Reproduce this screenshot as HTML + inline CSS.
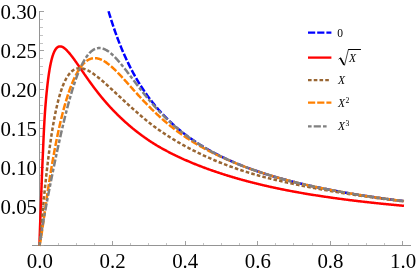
<!DOCTYPE html>
<html><head><meta charset="utf-8"><title>Plot</title>
<style>html,body{margin:0;padding:0;background:#fff;}body{width:416px;height:273px;overflow:hidden;position:relative;font-family:"Liberation Serif",serif;}</style></head>
<body>
<svg width="416" height="273" viewBox="0 0 416 273" style="position:absolute;left:0;top:0;will-change:transform">
<rect width="416" height="273" fill="#fff"/>
<g fill="none" shape-rendering="crispEdges">
<line x1="32.24" y1="245.5" x2="410.50" y2="245.5" stroke="#949494" stroke-width="1"/>
<line x1="39.5" y1="246.0" x2="39.5" y2="11.45" stroke="#949494" stroke-width="1"/>
<line x1="39.50" y1="245.0" x2="39.50" y2="241.00" stroke="#a0a0a0" stroke-width="1"/>
<line x1="58.50" y1="245.0" x2="58.50" y2="243.00" stroke="#c4c4c4" stroke-width="1"/>
<line x1="76.50" y1="245.0" x2="76.50" y2="243.00" stroke="#c4c4c4" stroke-width="1"/>
<line x1="94.50" y1="245.0" x2="94.50" y2="243.00" stroke="#c4c4c4" stroke-width="1"/>
<line x1="112.50" y1="245.0" x2="112.50" y2="241.00" stroke="#a0a0a0" stroke-width="1"/>
<line x1="130.50" y1="245.0" x2="130.50" y2="243.00" stroke="#c4c4c4" stroke-width="1"/>
<line x1="148.50" y1="245.0" x2="148.50" y2="243.00" stroke="#c4c4c4" stroke-width="1"/>
<line x1="166.50" y1="245.0" x2="166.50" y2="243.00" stroke="#c4c4c4" stroke-width="1"/>
<line x1="185.50" y1="245.0" x2="185.50" y2="241.00" stroke="#a0a0a0" stroke-width="1"/>
<line x1="203.50" y1="245.0" x2="203.50" y2="243.00" stroke="#c4c4c4" stroke-width="1"/>
<line x1="221.50" y1="245.0" x2="221.50" y2="243.00" stroke="#c4c4c4" stroke-width="1"/>
<line x1="239.50" y1="245.0" x2="239.50" y2="243.00" stroke="#c4c4c4" stroke-width="1"/>
<line x1="257.50" y1="245.0" x2="257.50" y2="241.00" stroke="#a0a0a0" stroke-width="1"/>
<line x1="275.50" y1="245.0" x2="275.50" y2="243.00" stroke="#c4c4c4" stroke-width="1"/>
<line x1="293.50" y1="245.0" x2="293.50" y2="243.00" stroke="#c4c4c4" stroke-width="1"/>
<line x1="312.50" y1="245.0" x2="312.50" y2="243.00" stroke="#c4c4c4" stroke-width="1"/>
<line x1="330.50" y1="245.0" x2="330.50" y2="241.00" stroke="#a0a0a0" stroke-width="1"/>
<line x1="348.50" y1="245.0" x2="348.50" y2="243.00" stroke="#c4c4c4" stroke-width="1"/>
<line x1="366.50" y1="245.0" x2="366.50" y2="243.00" stroke="#c4c4c4" stroke-width="1"/>
<line x1="384.50" y1="245.0" x2="384.50" y2="243.00" stroke="#c4c4c4" stroke-width="1"/>
<line x1="402.50" y1="245.0" x2="402.50" y2="241.00" stroke="#a0a0a0" stroke-width="1"/>
<line x1="40.0" y1="245.50" x2="44.00" y2="245.50" stroke="#a0a0a0" stroke-width="1"/>
<line x1="40.0" y1="237.50" x2="43.00" y2="237.50" stroke="#c4c4c4" stroke-width="1"/>
<line x1="40.0" y1="229.50" x2="43.00" y2="229.50" stroke="#c4c4c4" stroke-width="1"/>
<line x1="40.0" y1="222.50" x2="43.00" y2="222.50" stroke="#c4c4c4" stroke-width="1"/>
<line x1="40.0" y1="214.50" x2="43.00" y2="214.50" stroke="#c4c4c4" stroke-width="1"/>
<line x1="40.0" y1="206.50" x2="44.00" y2="206.50" stroke="#a0a0a0" stroke-width="1"/>
<line x1="40.0" y1="198.50" x2="43.00" y2="198.50" stroke="#c4c4c4" stroke-width="1"/>
<line x1="40.0" y1="191.50" x2="43.00" y2="191.50" stroke="#c4c4c4" stroke-width="1"/>
<line x1="40.0" y1="183.50" x2="43.00" y2="183.50" stroke="#c4c4c4" stroke-width="1"/>
<line x1="40.0" y1="175.50" x2="43.00" y2="175.50" stroke="#c4c4c4" stroke-width="1"/>
<line x1="40.0" y1="167.50" x2="44.00" y2="167.50" stroke="#a0a0a0" stroke-width="1"/>
<line x1="40.0" y1="159.50" x2="43.00" y2="159.50" stroke="#c4c4c4" stroke-width="1"/>
<line x1="40.0" y1="152.50" x2="43.00" y2="152.50" stroke="#c4c4c4" stroke-width="1"/>
<line x1="40.0" y1="144.50" x2="43.00" y2="144.50" stroke="#c4c4c4" stroke-width="1"/>
<line x1="40.0" y1="136.50" x2="43.00" y2="136.50" stroke="#c4c4c4" stroke-width="1"/>
<line x1="40.0" y1="128.50" x2="44.00" y2="128.50" stroke="#a0a0a0" stroke-width="1"/>
<line x1="40.0" y1="120.50" x2="43.00" y2="120.50" stroke="#c4c4c4" stroke-width="1"/>
<line x1="40.0" y1="113.50" x2="43.00" y2="113.50" stroke="#c4c4c4" stroke-width="1"/>
<line x1="40.0" y1="105.50" x2="43.00" y2="105.50" stroke="#c4c4c4" stroke-width="1"/>
<line x1="40.0" y1="97.50" x2="43.00" y2="97.50" stroke="#c4c4c4" stroke-width="1"/>
<line x1="40.0" y1="89.50" x2="44.00" y2="89.50" stroke="#a0a0a0" stroke-width="1"/>
<line x1="40.0" y1="82.50" x2="43.00" y2="82.50" stroke="#c4c4c4" stroke-width="1"/>
<line x1="40.0" y1="74.50" x2="43.00" y2="74.50" stroke="#c4c4c4" stroke-width="1"/>
<line x1="40.0" y1="66.50" x2="43.00" y2="66.50" stroke="#c4c4c4" stroke-width="1"/>
<line x1="40.0" y1="58.50" x2="43.00" y2="58.50" stroke="#c4c4c4" stroke-width="1"/>
<line x1="40.0" y1="50.50" x2="44.00" y2="50.50" stroke="#a0a0a0" stroke-width="1"/>
<line x1="40.0" y1="43.50" x2="43.00" y2="43.50" stroke="#c4c4c4" stroke-width="1"/>
<line x1="40.0" y1="35.50" x2="43.00" y2="35.50" stroke="#c4c4c4" stroke-width="1"/>
<line x1="40.0" y1="27.50" x2="43.00" y2="27.50" stroke="#c4c4c4" stroke-width="1"/>
<line x1="40.0" y1="19.50" x2="43.00" y2="19.50" stroke="#c4c4c4" stroke-width="1"/>
<line x1="40.0" y1="11.50" x2="44.00" y2="11.50" stroke="#a0a0a0" stroke-width="1"/>
</g>
<g font-family="'Liberation Serif', serif" font-size="22" fill="#000">
<text transform="translate(37.0,213.88) scale(0.949,1)" text-anchor="end">0.05</text>
<text transform="translate(37.0,174.95) scale(0.949,1)" text-anchor="end">0.10</text>
<text transform="translate(37.0,136.03) scale(0.949,1)" text-anchor="end">0.15</text>
<text transform="translate(37.0,97.10) scale(0.949,1)" text-anchor="end">0.20</text>
<text transform="translate(37.0,58.17) scale(0.949,1)" text-anchor="end">0.25</text>
<text transform="translate(37.0,19.25) scale(0.949,1)" text-anchor="end">0.30</text>
<text transform="translate(39.90,268.1) scale(0.949,1)" text-anchor="middle">0.0</text>
<text transform="translate(112.54,268.1) scale(0.949,1)" text-anchor="middle">0.2</text>
<text transform="translate(185.18,268.1) scale(0.949,1)" text-anchor="middle">0.4</text>
<text transform="translate(257.82,268.1) scale(0.949,1)" text-anchor="middle">0.6</text>
<text transform="translate(330.46,268.1) scale(0.949,1)" text-anchor="middle">0.8</text>
<text transform="translate(403.10,268.1) scale(0.949,1)" text-anchor="middle">1.0</text>
</g>
<path d="M108.54,11.25 L109.28,13.74 L110.02,16.17 L110.76,18.55 L111.50,20.89 L112.25,23.17 L112.99,25.41 L113.73,27.61 L114.47,29.76 L115.21,31.87 L115.95,33.94 L116.69,35.97 L117.43,37.96 L118.17,39.91 L118.91,41.83 L119.65,43.71 L120.39,45.56 L121.13,47.37 L121.87,49.15 L122.61,50.90 L123.35,52.62 L124.09,54.31 L124.83,55.97 L125.57,57.60 L126.31,59.20 L127.06,60.78 L127.80,62.33 L128.54,63.85 L129.28,65.35 L130.02,66.82 L130.76,68.27 L131.50,69.70 L132.24,71.10 L132.98,72.48 L133.72,73.84 L134.46,75.18 L135.20,76.50 L135.94,77.80 L136.68,79.08 L137.42,80.33 L138.16,81.57 L138.90,82.80 L139.64,84.00 L140.38,85.18 L141.12,86.35 L141.87,87.50 L142.61,88.64 L143.35,89.76 L144.09,90.86 L144.83,91.95 L145.57,93.02 L146.31,94.08 L147.05,95.12 L147.79,96.15 L148.53,97.16 L149.27,98.16 L150.01,99.15 L150.75,100.12 L151.49,101.08 L152.23,102.03 L152.97,102.97 L153.71,103.89 L154.45,104.81 L155.19,105.71 L155.93,106.59 L156.68,107.47 L157.42,108.34 L158.16,109.20 L158.90,110.04 L159.64,110.88 L160.38,111.70 L161.12,112.52 L161.86,113.32 L162.60,114.11 L163.34,114.90 L164.08,115.68 L164.82,116.44 L165.56,117.20 L166.30,117.95 L167.04,118.69 L167.78,119.42 L168.52,120.15 L169.26,120.86 L170.00,121.57 L170.74,122.27 L171.48,122.96 L172.23,123.64 L172.97,124.32 L173.71,124.99 L174.45,125.65 L175.19,126.30 L175.93,126.95 L176.67,127.59 L177.41,128.22 L178.15,128.85 L178.89,129.47 L179.63,130.08 L180.37,130.69 L181.11,131.29 L181.85,131.88 L182.59,132.47 L183.33,133.05 L184.07,133.63 L184.81,134.20 L185.55,134.76 L186.29,135.32 L187.04,135.88 L187.78,136.42 L188.52,136.97 L189.26,137.50 L190.00,138.03 L190.74,138.56 L191.48,139.08 L192.22,139.60 L192.96,140.11 L193.70,140.61 L194.44,141.12 L195.18,141.61 L195.92,142.10 L196.66,142.59 L197.40,143.07 L198.14,143.55 L198.88,144.03 L199.62,144.49 L200.36,144.96 L201.10,145.42 L201.85,145.88 L202.59,146.33 L203.33,146.78 L204.07,147.22 L204.81,147.66 L205.55,148.10 L206.29,148.53 L207.03,148.96 L207.77,149.38 L208.51,149.81 L209.25,150.22 L209.99,150.64 L210.73,151.05 L211.47,151.45 L212.21,151.86 L212.95,152.26 L213.69,152.65 L214.43,153.05 L215.17,153.44 L215.91,153.82 L216.66,154.21 L217.40,154.59 L218.14,154.96 L218.88,155.34 L219.62,155.71 L220.36,156.07 L221.10,156.44 L221.84,156.80 L222.58,157.16 L223.32,157.51 L224.06,157.87 L224.80,158.22 L225.54,158.57 L226.28,158.91 L227.02,159.25 L227.76,159.59 L228.50,159.93 L229.24,160.26 L229.98,160.59 L230.72,160.92 L231.46,161.25 L232.21,161.57 L232.95,161.89 L233.69,162.21 L234.43,162.53 L235.17,162.84 L235.91,163.15 L236.65,163.46 L237.39,163.77 L238.13,164.08 L238.87,164.38 L239.61,164.68 L240.35,164.98 L241.09,165.27 L241.83,165.57 L242.57,165.86 L243.31,166.15 L244.05,166.43 L244.79,166.72 L245.53,167.00 L246.27,167.28 L247.02,167.56 L247.76,167.84 L248.50,168.11 L249.24,168.39 L249.98,168.66 L250.72,168.93 L251.46,169.20 L252.20,169.46 L252.94,169.72 L253.68,169.99 L254.42,170.25 L255.16,170.51 L255.90,170.76 L256.64,171.02 L257.38,171.27 L258.12,171.52 L258.86,171.77 L259.60,172.02 L260.34,172.27 L261.08,172.51 L261.83,172.75 L262.57,173.00 L263.31,173.23 L264.05,173.47 L264.79,173.71 L265.53,173.95 L266.27,174.18 L267.01,174.41 L267.75,174.64 L268.49,174.87 L269.23,175.10 L269.97,175.32 L270.71,175.55 L271.45,175.77 L272.19,175.99 L272.93,176.22 L273.67,176.43 L274.41,176.65 L275.15,176.87 L275.89,177.08 L276.64,177.30 L277.38,177.51 L278.12,177.72 L278.86,177.93 L279.60,178.14 L280.34,178.35 L281.08,178.55 L281.82,178.76 L282.56,178.96 L283.30,179.16 L284.04,179.36 L284.78,179.56 L285.52,179.76 L286.26,179.96 L287.00,180.15 L287.74,180.35 L288.48,180.54 L289.22,180.73 L289.96,180.93 L290.70,181.12 L291.44,181.31 L292.19,181.49 L292.93,181.68 L293.67,181.87 L294.41,182.05 L295.15,182.24 L295.89,182.42 L296.63,182.60 L297.37,182.78 L298.11,182.96 L298.85,183.14 L299.59,183.32 L300.33,183.49 L301.07,183.67 L301.81,183.84 L302.55,184.02 L303.29,184.19 L304.03,184.36 L304.77,184.53 L305.51,184.70 L306.25,184.87 L307.00,185.04 L307.74,185.20 L308.48,185.37 L309.22,185.54 L309.96,185.70 L310.70,185.86 L311.44,186.03 L312.18,186.19 L312.92,186.35 L313.66,186.51 L314.40,186.67 L315.14,186.82 L315.88,186.98 L316.62,187.14 L317.36,187.29 L318.10,187.45 L318.84,187.60 L319.58,187.76 L320.32,187.91 L321.06,188.06 L321.81,188.21 L322.55,188.36 L323.29,188.51 L324.03,188.66 L324.77,188.80 L325.51,188.95 L326.25,189.10 L326.99,189.24 L327.73,189.39 L328.47,189.53 L329.21,189.67 L329.95,189.82 L330.69,189.96 L331.43,190.10 L332.17,190.24 L332.91,190.38 L333.65,190.52 L334.39,190.66 L335.13,190.79 L335.87,190.93 L336.62,191.07 L337.36,191.20 L338.10,191.34 L338.84,191.47 L339.58,191.60 L340.32,191.74 L341.06,191.87 L341.80,192.00 L342.54,192.13 L343.28,192.26 L344.02,192.39 L344.76,192.52 L345.50,192.65 L346.24,192.77 L346.98,192.90 L347.72,193.03 L348.46,193.15 L349.20,193.28 L349.94,193.40 L350.68,193.53 L351.42,193.65 L352.17,193.77 L352.91,193.89 L353.65,194.02 L354.39,194.14 L355.13,194.26 L355.87,194.38 L356.61,194.50 L357.35,194.62 L358.09,194.73 L358.83,194.85 L359.57,194.97 L360.31,195.09 L361.05,195.20 L361.79,195.32 L362.53,195.43 L363.27,195.55 L364.01,195.66 L364.75,195.77 L365.49,195.89 L366.23,196.00 L366.98,196.11 L367.72,196.22 L368.46,196.33 L369.20,196.44 L369.94,196.55 L370.68,196.66 L371.42,196.77 L372.16,196.88 L372.90,196.99 L373.64,197.10 L374.38,197.20 L375.12,197.31 L375.86,197.42 L376.60,197.52 L377.34,197.63 L378.08,197.73 L378.82,197.84 L379.56,197.94 L380.30,198.04 L381.04,198.15 L381.79,198.25 L382.53,198.35 L383.27,198.45 L384.01,198.55 L384.75,198.65 L385.49,198.75 L386.23,198.85 L386.97,198.95 L387.71,199.05 L388.45,199.15 L389.19,199.25 L389.93,199.35 L390.67,199.44 L391.41,199.54 L392.15,199.64 L392.89,199.73 L393.63,199.83 L394.37,199.92 L395.11,200.02 L395.85,200.11 L396.60,200.21 L397.34,200.30 L398.08,200.40 L398.82,200.49 L399.56,200.58 L400.30,200.67 L401.04,200.77 L401.78,200.86 L402.52,200.95 L403.26,201.04 L404.00,201.13" fill="none" stroke="#0000ff" stroke-width="2.5" stroke-dasharray="7.05 2" stroke-linejoin="round"/>
<path d="M39.50,245.50 L39.50,245.32 L39.50,245.32 L39.50,245.30 L39.50,245.26 L39.51,245.21 L39.51,245.13 L39.51,245.04 L39.51,244.93 L39.51,244.79 L39.52,244.63 L39.52,244.46 L39.53,244.26 L39.53,244.04 L39.54,243.79 L39.54,243.53 L39.55,243.24 L39.56,242.93 L39.56,242.60 L39.57,242.24 L39.58,241.86 L39.59,241.46 L39.60,241.04 L39.61,240.60 L39.62,240.13 L39.63,239.64 L39.64,239.13 L39.65,238.60 L39.67,238.04 L39.69,237.47 L39.70,236.87 L39.73,236.25 L39.75,235.61 L39.77,234.95 L39.79,234.27 L39.82,233.57 L39.84,232.85 L39.87,232.10 L39.89,231.34 L39.92,230.56 L39.95,229.76 L39.97,228.94 L40.00,228.10 L40.03,227.25 L40.06,226.37 L40.10,225.48 L40.13,224.57 L40.16,223.64 L40.20,222.69 L40.23,221.73 L40.27,220.75 L40.30,219.76 L40.34,218.74 L40.38,217.72 L40.42,216.67 L40.46,215.62 L40.50,214.54 L40.54,213.46 L40.58,212.36 L40.63,211.24 L40.67,210.11 L40.72,208.97 L40.76,207.82 L40.81,206.65 L40.86,205.47 L40.90,204.28 L40.95,203.08 L41.00,201.87 L41.05,200.65 L41.10,199.41 L41.14,198.17 L41.18,196.91 L41.22,195.65 L41.26,194.38 L41.31,193.10 L41.35,191.81 L41.40,190.51 L41.44,189.20 L41.49,187.89 L41.54,186.57 L41.58,185.24 L41.63,183.91 L41.68,182.57 L41.73,181.23 L41.78,179.88 L41.83,178.52 L41.89,177.16 L41.94,175.80 L41.99,174.43 L42.05,173.06 L42.10,171.69 L42.16,170.31 L42.22,168.93 L42.27,167.55 L42.33,166.16 L42.39,164.77 L42.45,163.39 L42.51,162.00 L42.57,160.61 L42.63,159.22 L42.70,157.83 L42.76,156.44 L42.82,155.05 L42.89,153.66 L42.96,152.27 L43.02,150.89 L43.08,149.50 L43.14,148.12 L43.19,146.74 L43.25,145.36 L43.31,143.99 L43.36,142.61 L43.42,141.24 L43.48,139.88 L43.54,138.52 L43.60,137.16 L43.66,135.81 L43.73,134.46 L43.79,133.12 L43.86,131.78 L43.92,130.45 L43.99,129.12 L44.05,127.80 L44.12,126.49 L44.19,125.18 L44.26,123.88 L44.34,122.58 L44.41,121.29 L44.49,120.01 L44.57,118.74 L44.64,117.47 L44.72,116.22 L44.80,114.97 L44.88,113.72 L44.96,112.49 L45.05,111.27 L45.13,110.05 L45.22,108.84 L45.31,107.65 L45.41,106.46 L45.50,105.28 L45.60,104.11 L45.69,102.95 L45.79,101.80 L45.89,100.66 L45.99,99.53 L46.09,98.41 L46.19,97.30 L46.29,96.21 L46.39,95.12 L46.49,94.04 L46.60,92.98 L46.70,91.92 L46.81,90.88 L46.91,89.85 L47.02,88.83 L47.13,87.82 L47.24,86.82 L47.35,85.83 L47.46,84.86 L47.57,83.90 L47.68,82.95 L47.79,82.01 L47.91,81.08 L48.02,80.17 L48.13,79.27 L48.25,78.38 L48.37,77.50 L48.49,76.63 L48.60,75.78 L48.72,74.94 L48.84,74.11 L48.97,73.29 L49.09,72.49 L49.21,71.70 L49.34,70.92 L49.46,70.15 L49.59,69.40 L49.71,68.66 L49.84,67.93 L49.97,67.22 L50.10,66.52 L50.23,65.84 L50.36,65.17 L50.49,64.52 L50.62,63.88 L50.75,63.25 L50.89,62.63 L51.02,62.02 L51.16,61.43 L51.30,60.85 L51.43,60.29 L51.57,59.73 L51.71,59.19 L51.85,58.66 L51.99,58.14 L52.14,57.63 L52.28,57.14 L52.42,56.66 L52.57,56.19 L52.71,55.73 L52.86,55.28 L53.01,54.85 L53.16,54.43 L53.30,54.02 L53.45,53.62 L53.61,53.23 L53.76,52.86 L53.91,52.49 L54.06,52.14 L54.22,51.80 L54.37,51.47 L54.53,51.15 L54.69,50.84 L54.84,50.55 L55.00,50.26 L55.16,49.99 L55.32,49.73 L55.49,49.47 L55.65,49.23 L55.81,49.00 L55.98,48.78 L56.14,48.57 L56.31,48.37 L56.47,48.18 L56.64,48.00 L56.81,47.83 L56.98,47.67 L57.15,47.53 L57.32,47.39 L57.49,47.26 L57.67,47.14 L57.84,47.03 L58.02,46.93 L58.19,46.84 L58.37,46.76 L58.55,46.68 L58.73,46.62 L58.91,46.56 L59.09,46.51 L59.27,46.47 L59.45,46.44 L59.63,46.42 L59.82,46.40 L60.00,46.39 L60.19,46.39 L60.38,46.40 L60.56,46.42 L60.75,46.44 L60.94,46.47 L61.13,46.51 L61.33,46.56 L61.52,46.61 L61.71,46.67 L61.91,46.74 L62.10,46.82 L62.30,46.90 L62.49,46.99 L62.69,47.09 L62.89,47.20 L63.09,47.31 L63.29,47.43 L63.49,47.55 L63.70,47.68 L63.90,47.82 L64.10,47.97 L64.31,48.12 L64.52,48.27 L64.72,48.44 L64.93,48.61 L65.14,48.78 L65.35,48.96 L65.56,49.15 L65.77,49.34 L65.99,49.54 L66.20,49.75 L66.42,49.96 L66.63,50.17 L66.85,50.39 L67.07,50.61 L67.28,50.84 L67.50,51.07 L67.72,51.31 L67.95,51.55 L68.17,51.80 L68.39,52.05 L68.62,52.30 L68.84,52.56 L69.07,52.83 L69.29,53.09 L69.52,53.36 L69.75,53.64 L69.98,53.92 L70.21,54.20 L70.44,54.49 L70.68,54.78 L70.91,55.08 L71.15,55.37 L71.38,55.68 L71.62,55.98 L71.86,56.29 L72.09,56.60 L72.33,56.92 L72.57,57.24 L72.82,57.56 L73.06,57.89 L73.30,58.22 L73.55,58.55 L73.79,58.89 L74.04,59.23 L74.28,59.57 L74.53,59.92 L74.78,60.26 L75.03,60.61 L75.28,60.96 L75.53,61.32 L75.79,61.67 L76.04,62.03 L76.30,62.39 L76.55,62.76 L76.81,63.12 L77.07,63.49 L77.32,63.86 L77.58,64.23 L77.84,64.60 L78.11,64.98 L78.37,65.36 L78.63,65.74 L78.90,66.12 L79.16,66.50 L79.43,66.88 L79.70,67.27 L79.97,67.66 L80.23,68.05 L80.51,68.44 L80.78,68.83 L81.05,69.23 L81.32,69.63 L81.60,70.02 L81.87,70.42 L82.15,70.83 L82.43,71.23 L82.70,71.64 L82.98,72.04 L83.26,72.45 L83.54,72.86 L83.83,73.27 L84.11,73.68 L84.39,74.10 L84.68,74.51 L84.96,74.93 L85.25,75.34 L85.54,75.76 L85.83,76.18 L86.12,76.60 L86.41,77.01 L86.70,77.43 L86.99,77.85 L87.29,78.27 L87.58,78.69 L87.88,79.11 L88.18,79.53 L88.47,79.96 L88.77,80.38 L89.07,80.80 L89.37,81.22 L89.68,81.64 L89.98,82.07 L90.28,82.49 L90.59,82.91 L90.89,83.33 L91.20,83.76 L91.51,84.18 L91.82,84.60 L92.13,85.03 L92.44,85.45 L92.75,85.87 L93.06,86.29 L93.38,86.72 L93.69,87.14 L94.01,87.56 L94.32,87.98 L94.64,88.41 L94.96,88.83 L95.28,89.25 L95.60,89.67 L95.92,90.09 L96.25,90.51 L96.57,90.93 L96.90,91.35 L97.22,91.77 L97.55,92.19 L97.88,92.61 L98.21,93.03 L98.54,93.44 L98.87,93.86 L99.20,94.28 L99.53,94.69 L99.87,95.11 L100.20,95.52 L100.54,95.94 L100.87,96.35 L101.21,96.77 L101.55,97.18 L101.89,97.59 L102.23,98.00 L102.57,98.41 L102.92,98.82 L103.26,99.23 L103.61,99.64 L103.95,100.05 L104.30,100.46 L104.65,100.87 L105.00,101.27 L105.35,101.68 L105.70,102.08 L106.05,102.49 L106.40,102.89 L106.76,103.29 L107.11,103.69 L107.47,104.09 L107.83,104.49 L108.19,104.89 L108.54,105.29 L108.91,105.69 L109.27,106.09 L109.63,106.48 L109.99,106.88 L110.36,107.27 L110.72,107.67 L111.09,108.06 L111.46,108.45 L111.83,108.84 L112.20,109.24 L112.57,109.63 L112.94,110.02 L113.31,110.41 L113.68,110.79 L114.06,111.18 L114.44,111.57 L114.81,111.96 L115.19,112.34 L115.57,112.73 L115.95,113.11 L116.33,113.49 L116.71,113.88 L117.10,114.26 L117.48,114.64 L117.86,115.02 L118.25,115.40 L118.64,115.78 L119.03,116.16 L119.42,116.53 L119.81,116.91 L120.20,117.29 L120.59,117.66 L120.98,118.03 L121.38,118.41 L121.77,118.78 L122.17,119.15 L122.57,119.52 L122.97,119.89 L123.37,120.26 L123.77,120.63 L124.17,121.00 L124.57,121.36 L124.97,121.73 L125.38,122.09 L125.79,122.46 L126.19,122.82 L126.60,123.18 L127.01,123.54 L127.42,123.90 L127.83,124.26 L128.24,124.62 L128.66,124.98 L129.07,125.33 L129.49,125.69 L129.90,126.04 L130.32,126.39 L130.74,126.75 L131.16,127.10 L131.58,127.45 L132.00,127.80 L132.42,128.15 L132.85,128.49 L133.27,128.84 L133.70,129.19 L134.12,129.53 L134.55,129.87 L134.98,130.22 L135.41,130.56 L135.84,130.90 L136.27,131.24 L136.71,131.58 L137.14,131.91 L137.58,132.25 L138.01,132.58 L138.45,132.92 L138.89,133.25 L139.33,133.58 L139.77,133.91 L140.21,134.24 L140.65,134.57 L141.10,134.90 L141.54,135.23 L141.99,135.55 L142.44,135.88 L142.88,136.21 L143.33,136.53 L143.78,136.85 L144.23,137.18 L144.69,137.50 L145.14,137.82 L145.60,138.14 L146.05,138.46 L146.51,138.78 L146.96,139.10 L147.42,139.42 L147.88,139.74 L148.34,140.05 L148.81,140.36 L149.27,140.68 L149.73,140.99 L150.20,141.30 L150.66,141.61 L151.13,141.91 L151.60,142.22 L152.07,142.52 L152.54,142.82 L153.01,143.12 L153.48,143.42 L153.96,143.72 L154.43,144.01 L154.91,144.31 L155.38,144.60 L155.86,144.89 L156.34,145.17 L156.82,145.46 L157.30,145.75 L157.79,146.03 L158.27,146.32 L158.75,146.60 L159.24,146.88 L159.72,147.16 L160.21,147.44 L160.70,147.72 L161.19,147.99 L161.68,148.27 L162.17,148.54 L162.67,148.82 L163.16,149.09 L163.66,149.36 L164.15,149.63 L164.65,149.90 L165.15,150.17 L165.65,150.44 L166.15,150.71 L166.65,150.97 L167.15,151.24 L167.66,151.50 L168.16,151.76 L168.67,152.03 L169.17,152.29 L169.68,152.55 L170.19,152.81 L170.70,153.07 L171.21,153.33 L171.73,153.58 L172.24,153.84 L172.75,154.10 L173.27,154.35 L173.79,154.61 L174.30,154.86 L174.82,155.11 L175.34,155.36 L175.86,155.62 L176.39,155.87 L176.91,156.12 L177.44,156.37 L177.96,156.62 L178.49,156.86 L179.01,157.11 L179.54,157.36 L180.07,157.61 L180.60,157.85 L181.14,158.10 L181.67,158.34 L182.20,158.59 L182.74,158.83 L183.28,159.07 L183.81,159.32 L184.35,159.56 L184.89,159.80 L185.43,160.04 L185.97,160.27 L186.52,160.51 L187.06,160.75 L187.61,160.99 L188.15,161.22 L188.70,161.46 L189.25,161.69 L189.80,161.92 L190.35,162.16 L190.90,162.39 L191.45,162.62 L192.01,162.85 L192.56,163.08 L193.12,163.31 L193.68,163.54 L194.24,163.76 L194.80,163.99 L195.36,164.22 L195.92,164.44 L196.48,164.67 L197.04,164.89 L197.61,165.11 L198.18,165.34 L198.74,165.56 L199.31,165.78 L199.88,166.00 L200.45,166.22 L201.02,166.44 L201.60,166.66 L202.17,166.88 L202.74,167.10 L203.32,167.31 L203.90,167.53 L204.48,167.74 L205.06,167.96 L205.64,168.17 L206.22,168.39 L206.80,168.60 L207.38,168.81 L207.97,169.02 L208.55,169.23 L209.14,169.45 L209.73,169.65 L210.32,169.86 L210.91,170.07 L211.50,170.28 L212.09,170.49 L212.69,170.70 L213.28,170.90 L213.88,171.11 L214.48,171.31 L215.07,171.52 L215.67,171.72 L216.27,171.92 L216.88,172.13 L217.48,172.33 L218.08,172.53 L218.69,172.73 L219.29,172.93 L219.90,173.13 L220.51,173.33 L221.12,173.53 L221.73,173.73 L222.34,173.93 L222.95,174.12 L223.57,174.32 L224.18,174.52 L224.80,174.71 L225.42,174.91 L226.03,175.10 L226.65,175.29 L227.28,175.49 L227.90,175.68 L228.52,175.87 L229.14,176.06 L229.77,176.25 L230.40,176.44 L231.02,176.63 L231.65,176.82 L232.28,177.01 L232.91,177.20 L233.54,177.39 L234.18,177.57 L234.81,177.76 L235.45,177.94 L236.08,178.13 L236.72,178.31 L237.36,178.50 L238.00,178.68 L238.64,178.86 L239.28,179.05 L239.92,179.23 L240.57,179.41 L241.21,179.59 L241.86,179.77 L242.51,179.95 L243.16,180.13 L243.81,180.30 L244.46,180.48 L245.11,180.66 L245.76,180.83 L246.42,181.01 L247.07,181.18 L247.73,181.36 L248.39,181.53 L249.05,181.71 L249.71,181.88 L250.37,182.05 L251.03,182.22 L251.69,182.39 L252.36,182.56 L253.02,182.73 L253.69,182.90 L254.36,183.07 L255.03,183.24 L255.70,183.40 L256.37,183.57 L257.04,183.73 L257.72,183.90 L258.39,184.06 L259.07,184.23 L259.74,184.39 L260.42,184.55 L261.10,184.72 L261.78,184.88 L262.46,185.04 L263.15,185.20 L263.83,185.36 L264.51,185.52 L265.20,185.67 L265.89,185.83 L266.58,185.99 L267.27,186.15 L267.96,186.30 L268.65,186.46 L269.34,186.61 L270.04,186.77 L270.73,186.92 L271.43,187.07 L272.13,187.22 L272.82,187.38 L273.52,187.53 L274.23,187.68 L274.93,187.83 L275.63,187.98 L276.34,188.13 L277.04,188.28 L277.75,188.42 L278.46,188.57 L279.16,188.72 L279.87,188.86 L280.59,189.01 L281.30,189.16 L282.01,189.30 L282.73,189.44 L283.44,189.59 L284.16,189.73 L284.88,189.87 L285.60,190.02 L286.32,190.16 L287.04,190.30 L287.76,190.44 L288.49,190.58 L289.21,190.72 L289.94,190.86 L290.67,190.99 L291.39,191.13 L292.12,191.27 L292.85,191.41 L293.59,191.54 L294.32,191.68 L295.05,191.81 L295.79,191.95 L296.53,192.08 L297.26,192.22 L298.00,192.35 L298.74,192.48 L299.48,192.62 L300.23,192.75 L300.97,192.88 L301.72,193.01 L302.46,193.14 L303.21,193.27 L303.96,193.40 L304.71,193.53 L305.46,193.65 L306.21,193.78 L306.96,193.91 L307.71,194.03 L308.47,194.16 L309.23,194.28 L309.98,194.40 L310.74,194.53 L311.50,194.65 L312.26,194.77 L313.03,194.89 L313.79,195.01 L314.55,195.13 L315.32,195.25 L316.08,195.37 L316.85,195.49 L317.62,195.61 L318.39,195.73 L319.16,195.84 L319.94,195.96 L320.71,196.08 L321.48,196.19 L322.26,196.31 L323.04,196.43 L323.82,196.54 L324.60,196.66 L325.38,196.77 L326.16,196.88 L326.94,197.00 L327.73,197.11 L328.51,197.23 L329.30,197.34 L330.08,197.45 L330.87,197.56 L331.66,197.68 L332.46,197.79 L333.25,197.90 L334.04,198.01 L334.84,198.12 L335.63,198.23 L336.43,198.34 L337.23,198.45 L338.03,198.56 L338.83,198.67 L339.63,198.78 L340.43,198.88 L341.24,198.99 L342.04,199.10 L342.85,199.20 L343.65,199.31 L344.46,199.41 L345.27,199.52 L346.08,199.62 L346.90,199.73 L347.71,199.83 L348.52,199.93 L349.34,200.04 L350.16,200.14 L350.97,200.24 L351.79,200.34 L352.61,200.44 L353.44,200.55 L354.26,200.65 L355.08,200.75 L355.91,200.85 L356.73,200.94 L357.56,201.04 L358.39,201.14 L359.22,201.24 L360.05,201.34 L360.88,201.43 L361.72,201.53 L362.55,201.63 L363.39,201.72 L364.22,201.82 L365.06,201.91 L365.90,202.01 L366.74,202.10 L367.58,202.20 L368.43,202.29 L369.27,202.38 L370.12,202.48 L370.96,202.57 L371.81,202.66 L372.66,202.75 L373.51,202.85 L374.36,202.94 L375.21,203.03 L376.06,203.12 L376.92,203.21 L377.78,203.30 L378.63,203.38 L379.49,203.47 L380.35,203.56 L381.21,203.65 L382.07,203.74 L382.93,203.82 L383.80,203.91 L384.66,204.00 L385.53,204.08 L386.40,204.17 L387.27,204.25 L388.14,204.34 L389.01,204.42 L389.88,204.51 L390.75,204.59 L391.63,204.68 L392.50,204.76 L393.38,204.84 L394.26,204.92 L395.14,205.01 L396.02,205.09 L396.90,205.17 L397.79,205.25 L398.67,205.33 L399.55,205.41 L400.44,205.49 L401.33,205.57 L402.22,205.65 L403.11,205.73 L404.00,205.81" fill="none" stroke="#ff0000" stroke-width="2.5" stroke-linejoin="round"/>
<path d="M39.50,245.50 L39.50,245.47 L39.50,245.47 L39.50,245.46 L39.50,245.46 L39.51,245.44 L39.51,245.43 L39.51,245.41 L39.51,245.39 L39.51,245.36 L39.52,245.33 L39.52,245.30 L39.53,245.26 L39.53,245.21 L39.54,245.16 L39.54,245.11 L39.55,245.05 L39.56,244.98 L39.56,244.91 L39.57,244.83 L39.58,244.75 L39.59,244.66 L39.60,244.57 L39.61,244.47 L39.62,244.37 L39.63,244.26 L39.64,244.14 L39.65,244.01 L39.67,243.88 L39.68,243.75 L39.69,243.60 L39.71,243.45 L39.72,243.30 L39.74,243.13 L39.76,242.96 L39.77,242.79 L39.79,242.60 L39.81,242.41 L39.83,242.22 L39.85,242.01 L39.87,241.80 L39.89,241.58 L39.91,241.35 L39.93,241.12 L39.96,240.88 L39.98,240.63 L40.01,240.37 L40.03,240.11 L40.06,239.84 L40.08,239.56 L40.11,239.27 L40.14,238.98 L40.16,238.67 L40.19,238.36 L40.22,238.05 L40.25,237.72 L40.28,237.39 L40.32,237.04 L40.35,236.69 L40.38,236.34 L40.41,235.97 L40.45,235.60 L40.48,235.22 L40.52,234.83 L40.56,234.43 L40.59,234.02 L40.63,233.61 L40.67,233.19 L40.71,232.76 L40.75,232.32 L40.79,231.87 L40.83,231.42 L40.87,230.96 L40.91,230.49 L40.96,230.01 L41.00,229.52 L41.05,229.03 L41.09,228.52 L41.14,228.01 L41.19,227.49 L41.23,226.97 L41.28,226.43 L41.33,225.89 L41.38,225.34 L41.43,224.78 L41.48,224.22 L41.54,223.64 L41.59,223.06 L41.64,222.47 L41.70,221.87 L41.75,221.27 L41.81,220.66 L41.87,220.04 L41.92,219.41 L41.98,218.77 L42.04,218.13 L42.10,217.48 L42.16,216.83 L42.22,216.16 L42.28,215.49 L42.35,214.81 L42.41,214.13 L42.47,213.43 L42.54,212.73 L42.61,212.03 L42.67,211.31 L42.74,210.59 L42.81,209.87 L42.88,209.13 L42.95,208.40 L43.02,207.65 L43.09,206.90 L43.16,206.14 L43.23,205.37 L43.31,204.60 L43.38,203.83 L43.46,203.04 L43.53,202.25 L43.61,201.46 L43.69,200.66 L43.77,199.85 L43.84,199.04 L43.92,198.23 L44.01,197.41 L44.09,196.58 L44.17,195.75 L44.25,194.91 L44.34,194.07 L44.42,193.22 L44.51,192.37 L44.59,191.52 L44.68,190.66 L44.77,189.79 L44.86,188.92 L44.95,188.05 L45.04,187.17 L45.13,186.29 L45.22,185.41 L45.31,184.52 L45.41,183.63 L45.50,182.74 L45.60,181.84 L45.69,180.94 L45.79,180.03 L45.89,179.13 L45.99,178.22 L46.09,177.30 L46.19,176.39 L46.29,175.47 L46.39,174.55 L46.49,173.63 L46.60,172.71 L46.70,171.78 L46.81,170.85 L46.91,169.92 L47.02,168.99 L47.13,168.06 L47.24,167.12 L47.35,166.19 L47.46,165.25 L47.57,164.32 L47.68,163.38 L47.79,162.44 L47.91,161.50 L48.02,160.56 L48.13,159.62 L48.25,158.68 L48.37,157.74 L48.49,156.80 L48.60,155.86 L48.72,154.92 L48.84,153.98 L48.97,153.04 L49.09,152.11 L49.21,151.17 L49.34,150.23 L49.46,149.30 L49.59,148.37 L49.71,147.43 L49.84,146.50 L49.97,145.57 L50.10,144.65 L50.23,143.72 L50.36,142.80 L50.49,141.87 L50.62,140.95 L50.75,140.04 L50.89,139.12 L51.02,138.21 L51.16,137.30 L51.30,136.39 L51.43,135.49 L51.57,134.59 L51.71,133.69 L51.85,132.79 L51.99,131.90 L52.14,131.02 L52.28,130.13 L52.42,129.25 L52.57,128.37 L52.71,127.50 L52.86,126.63 L53.01,125.76 L53.16,124.90 L53.30,124.04 L53.45,123.19 L53.61,122.34 L53.76,121.50 L53.91,120.66 L54.06,119.83 L54.22,119.00 L54.37,118.17 L54.53,117.35 L54.69,116.54 L54.84,115.73 L55.00,114.92 L55.16,114.12 L55.32,113.33 L55.49,112.54 L55.65,111.76 L55.81,110.98 L55.98,110.21 L56.14,109.45 L56.31,108.69 L56.47,107.94 L56.64,107.19 L56.81,106.45 L56.98,105.71 L57.15,104.98 L57.32,104.26 L57.49,103.54 L57.67,102.83 L57.84,102.13 L58.02,101.43 L58.19,100.74 L58.37,100.06 L58.55,99.38 L58.73,98.71 L58.91,98.05 L59.09,97.39 L59.27,96.74 L59.45,96.10 L59.63,95.46 L59.82,94.84 L60.00,94.21 L60.19,93.60 L60.38,92.99 L60.56,92.39 L60.75,91.80 L60.94,91.21 L61.13,90.64 L61.33,90.06 L61.52,89.50 L61.71,88.94 L61.91,88.39 L62.10,87.85 L62.30,87.32 L62.49,86.79 L62.69,86.27 L62.89,85.76 L63.09,85.26 L63.29,84.76 L63.49,84.27 L63.70,83.79 L63.90,83.31 L64.10,82.85 L64.31,82.39 L64.52,81.94 L64.72,81.49 L64.93,81.06 L65.14,80.63 L65.35,80.21 L65.56,79.79 L65.77,79.39 L65.99,78.99 L66.20,78.60 L66.42,78.22 L66.63,77.84 L66.85,77.47 L67.07,77.11 L67.28,76.76 L67.50,76.41 L67.72,76.08 L67.95,75.75 L68.17,75.42 L68.39,75.11 L68.62,74.80 L68.84,74.50 L69.07,74.21 L69.29,73.92 L69.52,73.64 L69.75,73.37 L69.98,73.11 L70.21,72.85 L70.44,72.60 L70.68,72.36 L70.91,72.13 L71.15,71.90 L71.38,71.68 L71.62,71.47 L71.86,71.26 L72.09,71.06 L72.33,70.87 L72.57,70.69 L72.82,70.51 L73.06,70.34 L73.30,70.18 L73.55,70.02 L73.79,69.87 L74.04,69.73 L74.28,69.59 L74.53,69.46 L74.78,69.34 L75.03,69.22 L75.28,69.11 L75.53,69.01 L75.79,68.91 L76.04,68.82 L76.30,68.74 L76.55,68.66 L76.81,68.59 L77.07,68.53 L77.32,68.47 L77.58,68.42 L77.84,68.37 L78.11,68.34 L78.37,68.30 L78.63,68.27 L78.90,68.25 L79.16,68.24 L79.43,68.23 L79.70,68.23 L79.97,68.23 L80.23,68.24 L80.51,68.25 L80.78,68.27 L81.05,68.30 L81.32,68.33 L81.60,68.36 L81.87,68.40 L82.15,68.45 L82.43,68.50 L82.70,68.56 L82.98,68.63 L83.26,68.69 L83.54,68.77 L83.83,68.85 L84.11,68.93 L84.39,69.02 L84.68,69.11 L84.96,69.21 L85.25,69.32 L85.54,69.43 L85.83,69.54 L86.12,69.66 L86.41,69.78 L86.70,69.91 L86.99,70.04 L87.29,70.18 L87.58,70.32 L87.88,70.46 L88.18,70.61 L88.47,70.77 L88.77,70.92 L89.07,71.09 L89.37,71.25 L89.68,71.42 L89.98,71.60 L90.28,71.78 L90.59,71.96 L90.89,72.15 L91.20,72.34 L91.51,72.53 L91.82,72.73 L92.13,72.93 L92.44,73.14 L92.75,73.35 L93.06,73.56 L93.38,73.78 L93.69,74.00 L94.01,74.22 L94.32,74.45 L94.64,74.68 L94.96,74.91 L95.28,75.15 L95.60,75.38 L95.92,75.63 L96.25,75.87 L96.57,76.12 L96.90,76.37 L97.22,76.63 L97.55,76.89 L97.88,77.15 L98.21,77.41 L98.54,77.68 L98.87,77.94 L99.20,78.22 L99.53,78.49 L99.87,78.77 L100.20,79.05 L100.54,79.33 L100.87,79.61 L101.21,79.90 L101.55,80.19 L101.89,80.48 L102.23,80.77 L102.57,81.07 L102.92,81.36 L103.26,81.66 L103.61,81.97 L103.95,82.27 L104.30,82.58 L104.65,82.89 L105.00,83.20 L105.35,83.51 L105.70,83.82 L106.05,84.14 L106.40,84.46 L106.76,84.78 L107.11,85.10 L107.47,85.42 L107.83,85.74 L108.19,86.07 L108.54,86.40 L108.91,86.73 L109.27,87.06 L109.63,87.39 L109.99,87.72 L110.36,88.06 L110.72,88.40 L111.09,88.73 L111.46,89.07 L111.83,89.41 L112.20,89.75 L112.57,90.10 L112.94,90.44 L113.31,90.79 L113.68,91.13 L114.06,91.48 L114.44,91.83 L114.81,92.18 L115.19,92.53 L115.57,92.88 L115.95,93.23 L116.33,93.58 L116.71,93.94 L117.10,94.29 L117.48,94.65 L117.86,95.00 L118.25,95.36 L118.64,95.72 L119.03,96.08 L119.42,96.44 L119.81,96.80 L120.20,97.16 L120.59,97.53 L120.98,97.89 L121.38,98.26 L121.77,98.63 L122.17,99.00 L122.57,99.37 L122.97,99.74 L123.37,100.11 L123.77,100.48 L124.17,100.86 L124.57,101.23 L124.97,101.60 L125.38,101.97 L125.79,102.35 L126.19,102.72 L126.60,103.10 L127.01,103.47 L127.42,103.85 L127.83,104.22 L128.24,104.60 L128.66,104.97 L129.07,105.35 L129.49,105.73 L129.90,106.10 L130.32,106.48 L130.74,106.86 L131.16,107.23 L131.58,107.61 L132.00,107.99 L132.42,108.37 L132.85,108.74 L133.27,109.12 L133.70,109.50 L134.12,109.88 L134.55,110.25 L134.98,110.63 L135.41,111.01 L135.84,111.39 L136.27,111.77 L136.71,112.15 L137.14,112.53 L137.58,112.91 L138.01,113.29 L138.45,113.67 L138.89,114.05 L139.33,114.43 L139.77,114.81 L140.21,115.19 L140.65,115.58 L141.10,115.96 L141.54,116.34 L141.99,116.72 L142.44,117.10 L142.88,117.48 L143.33,117.86 L143.78,118.24 L144.23,118.62 L144.69,119.00 L145.14,119.38 L145.60,119.75 L146.05,120.13 L146.51,120.51 L146.96,120.88 L147.42,121.25 L147.88,121.62 L148.34,121.99 L148.81,122.36 L149.27,122.73 L149.73,123.10 L150.20,123.46 L150.66,123.83 L151.13,124.19 L151.60,124.55 L152.07,124.91 L152.54,125.26 L153.01,125.61 L153.48,125.97 L153.96,126.32 L154.43,126.66 L154.91,127.01 L155.38,127.36 L155.86,127.70 L156.34,128.05 L156.82,128.39 L157.30,128.73 L157.79,129.07 L158.27,129.42 L158.75,129.76 L159.24,130.10 L159.72,130.43 L160.21,130.77 L160.70,131.11 L161.19,131.45 L161.68,131.78 L162.17,132.12 L162.67,132.45 L163.16,132.78 L163.66,133.12 L164.15,133.45 L164.65,133.78 L165.15,134.11 L165.65,134.44 L166.15,134.76 L166.65,135.09 L167.15,135.42 L167.66,135.74 L168.16,136.07 L168.67,136.39 L169.17,136.71 L169.68,137.03 L170.19,137.36 L170.70,137.68 L171.21,137.99 L171.73,138.31 L172.24,138.63 L172.75,138.95 L173.27,139.26 L173.79,139.58 L174.30,139.89 L174.82,140.20 L175.34,140.52 L175.86,140.83 L176.39,141.14 L176.91,141.45 L177.44,141.76 L177.96,142.07 L178.49,142.37 L179.01,142.68 L179.54,142.98 L180.07,143.29 L180.60,143.59 L181.14,143.90 L181.67,144.20 L182.20,144.50 L182.74,144.80 L183.28,145.10 L183.81,145.40 L184.35,145.70 L184.89,145.99 L185.43,146.29 L185.97,146.59 L186.52,146.88 L187.06,147.17 L187.61,147.47 L188.15,147.76 L188.70,148.05 L189.25,148.34 L189.80,148.63 L190.35,148.92 L190.90,149.21 L191.45,149.50 L192.01,149.78 L192.56,150.07 L193.12,150.35 L193.68,150.64 L194.24,150.92 L194.80,151.20 L195.36,151.48 L195.92,151.76 L196.48,152.04 L197.04,152.32 L197.61,152.60 L198.18,152.87 L198.74,153.15 L199.31,153.42 L199.88,153.70 L200.45,153.97 L201.02,154.24 L201.60,154.51 L202.17,154.78 L202.74,155.05 L203.32,155.32 L203.90,155.59 L204.48,155.86 L205.06,156.12 L205.64,156.39 L206.22,156.65 L206.80,156.91 L207.38,157.18 L207.97,157.44 L208.55,157.70 L209.14,157.96 L209.73,158.22 L210.32,158.47 L210.91,158.73 L211.50,158.99 L212.09,159.24 L212.69,159.50 L213.28,159.75 L213.88,160.00 L214.48,160.25 L215.07,160.51 L215.67,160.75 L216.27,161.00 L216.88,161.25 L217.48,161.50 L218.08,161.75 L218.69,161.99 L219.29,162.23 L219.90,162.48 L220.51,162.72 L221.12,162.96 L221.73,163.20 L222.34,163.44 L222.95,163.68 L223.57,163.92 L224.18,164.16 L224.80,164.40 L225.42,164.63 L226.03,164.87 L226.65,165.10 L227.28,165.33 L227.90,165.57 L228.52,165.80 L229.14,166.03 L229.77,166.26 L230.40,166.49 L231.02,166.71 L231.65,166.94 L232.28,167.17 L232.91,167.39 L233.54,167.62 L234.18,167.84 L234.81,168.06 L235.45,168.29 L236.08,168.51 L236.72,168.73 L237.36,168.95 L238.00,169.17 L238.64,169.38 L239.28,169.60 L239.92,169.82 L240.57,170.03 L241.21,170.25 L241.86,170.46 L242.51,170.67 L243.16,170.89 L243.81,171.10 L244.46,171.31 L245.11,171.52 L245.76,171.73 L246.42,171.93 L247.07,172.14 L247.73,172.35 L248.39,172.55 L249.05,172.76 L249.71,172.96 L250.37,173.16 L251.03,173.37 L251.69,173.57 L252.36,173.77 L253.02,173.96 L253.69,174.16 L254.36,174.36 L255.03,174.55 L255.70,174.74 L256.37,174.94 L257.04,175.13 L257.72,175.32 L258.39,175.51 L259.07,175.69 L259.74,175.88 L260.42,176.07 L261.10,176.25 L261.78,176.44 L262.46,176.62 L263.15,176.80 L263.83,176.98 L264.51,177.16 L265.20,177.34 L265.89,177.52 L266.58,177.69 L267.27,177.87 L267.96,178.04 L268.65,178.22 L269.34,178.39 L270.04,178.56 L270.73,178.74 L271.43,178.91 L272.13,179.08 L272.82,179.25 L273.52,179.42 L274.23,179.58 L274.93,179.75 L275.63,179.92 L276.34,180.08 L277.04,180.25 L277.75,180.41 L278.46,180.58 L279.16,180.74 L279.87,180.90 L280.59,181.07 L281.30,181.23 L282.01,181.39 L282.73,181.55 L283.44,181.71 L284.16,181.87 L284.88,182.03 L285.60,182.19 L286.32,182.35 L287.04,182.51 L287.76,182.66 L288.49,182.82 L289.21,182.98 L289.94,183.14 L290.67,183.29 L291.39,183.45 L292.12,183.60 L292.85,183.76 L293.59,183.92 L294.32,184.07 L295.05,184.23 L295.79,184.38 L296.53,184.54 L297.26,184.69 L298.00,184.85 L298.74,185.00 L299.48,185.16 L300.23,185.31 L300.97,185.47 L301.72,185.62 L302.46,185.77 L303.21,185.92 L303.96,186.07 L304.71,186.23 L305.46,186.38 L306.21,186.53 L306.96,186.68 L307.71,186.82 L308.47,186.97 L309.23,187.12 L309.98,187.27 L310.74,187.41 L311.50,187.56 L312.26,187.71 L313.03,187.85 L313.79,188.00 L314.55,188.14 L315.32,188.28 L316.08,188.43 L316.85,188.57 L317.62,188.71 L318.39,188.85 L319.16,189.00 L319.94,189.14 L320.71,189.28 L321.48,189.42 L322.26,189.56 L323.04,189.70 L323.82,189.84 L324.60,189.97 L325.38,190.11 L326.16,190.25 L326.94,190.39 L327.73,190.52 L328.51,190.66 L329.30,190.79 L330.08,190.93 L330.87,191.06 L331.66,191.20 L332.46,191.33 L333.25,191.47 L334.04,191.60 L334.84,191.73 L335.63,191.87 L336.43,192.00 L337.23,192.13 L338.03,192.26 L338.83,192.39 L339.63,192.52 L340.43,192.65 L341.24,192.78 L342.04,192.91 L342.85,193.04 L343.65,193.17 L344.46,193.30 L345.27,193.42 L346.08,193.55 L346.90,193.68 L347.71,193.80 L348.52,193.93 L349.34,194.06 L350.16,194.18 L350.97,194.31 L351.79,194.43 L352.61,194.55 L353.44,194.68 L354.26,194.80 L355.08,194.93 L355.91,195.05 L356.73,195.17 L357.56,195.29 L358.39,195.42 L359.22,195.54 L360.05,195.66 L360.88,195.78 L361.72,195.90 L362.55,196.02 L363.39,196.14 L364.22,196.26 L365.06,196.38 L365.90,196.50 L366.74,196.62 L367.58,196.74 L368.43,196.86 L369.27,196.97 L370.12,197.09 L370.96,197.21 L371.81,197.33 L372.66,197.44 L373.51,197.56 L374.36,197.67 L375.21,197.79 L376.06,197.91 L376.92,198.02 L377.78,198.14 L378.63,198.25 L379.49,198.37 L380.35,198.48 L381.21,198.59 L382.07,198.71 L382.93,198.82 L383.80,198.93 L384.66,199.05 L385.53,199.16 L386.40,199.27 L387.27,199.38 L388.14,199.49 L389.01,199.61 L389.88,199.72 L390.75,199.83 L391.63,199.94 L392.50,200.05 L393.38,200.16 L394.26,200.27 L395.14,200.38 L396.02,200.49 L396.90,200.59 L397.79,200.70 L398.67,200.81 L399.55,200.92 L400.44,201.03 L401.33,201.13 L402.22,201.24 L403.11,201.35 L404.00,201.45" fill="none" stroke="#996633" stroke-width="2.5" stroke-dasharray="3.6 2.157" stroke-linejoin="round"/>
<path d="M39.50,245.50 L39.50,245.49 L39.50,245.49 L39.50,245.49 L39.50,245.49 L39.51,245.48 L39.51,245.48 L39.51,245.47 L39.51,245.47 L39.51,245.46 L39.52,245.45 L39.52,245.44 L39.53,245.43 L39.53,245.41 L39.54,245.39 L39.54,245.38 L39.55,245.36 L39.56,245.33 L39.56,245.31 L39.57,245.28 L39.58,245.26 L39.59,245.22 L39.60,245.19 L39.61,245.16 L39.62,245.12 L39.63,245.08 L39.64,245.03 L39.65,244.99 L39.67,244.94 L39.68,244.88 L39.69,244.83 L39.71,244.77 L39.72,244.71 L39.74,244.64 L39.76,244.57 L39.77,244.50 L39.79,244.43 L39.81,244.35 L39.83,244.26 L39.85,244.18 L39.87,244.08 L39.89,243.99 L39.91,243.89 L39.93,243.79 L39.96,243.68 L39.98,243.57 L40.01,243.45 L40.03,243.33 L40.06,243.21 L40.08,243.08 L40.11,242.94 L40.14,242.81 L40.16,242.66 L40.19,242.51 L40.22,242.36 L40.25,242.20 L40.28,242.04 L40.32,241.87 L40.35,241.69 L40.38,241.51 L40.41,241.33 L40.45,241.14 L40.48,240.94 L40.52,240.74 L40.56,240.54 L40.59,240.32 L40.63,240.11 L40.67,239.88 L40.71,239.65 L40.75,239.42 L40.79,239.17 L40.83,238.93 L40.87,238.67 L40.91,238.41 L40.96,238.15 L41.00,237.88 L41.05,237.60 L41.09,237.32 L41.14,237.03 L41.19,236.73 L41.23,236.43 L41.28,236.12 L41.33,235.80 L41.38,235.48 L41.43,235.15 L41.48,234.82 L41.54,234.48 L41.59,234.13 L41.64,233.78 L41.70,233.42 L41.75,233.05 L41.81,232.68 L41.87,232.30 L41.92,231.91 L41.98,231.52 L42.04,231.12 L42.10,230.71 L42.16,230.30 L42.22,229.88 L42.28,229.46 L42.35,229.03 L42.41,228.59 L42.47,228.14 L42.54,227.69 L42.61,227.24 L42.67,226.77 L42.74,226.30 L42.81,225.83 L42.88,225.34 L42.95,224.86 L43.02,224.36 L43.09,223.86 L43.16,223.35 L43.23,222.84 L43.31,222.32 L43.38,221.79 L43.46,221.26 L43.53,220.72 L43.61,220.18 L43.69,219.63 L43.77,219.07 L43.84,218.51 L43.92,217.94 L44.01,217.36 L44.09,216.78 L44.17,216.20 L44.25,215.61 L44.34,215.01 L44.42,214.41 L44.51,213.80 L44.59,213.19 L44.68,212.57 L44.77,211.95 L44.86,211.32 L44.95,210.68 L45.04,210.04 L45.13,209.40 L45.22,208.75 L45.31,208.09 L45.41,207.43 L45.50,206.77 L45.60,206.10 L45.69,205.42 L45.79,204.74 L45.89,204.06 L45.99,203.37 L46.09,202.68 L46.19,201.98 L46.29,201.28 L46.39,200.57 L46.49,199.86 L46.60,199.15 L46.70,198.43 L46.81,197.71 L46.91,196.98 L47.02,196.25 L47.13,195.51 L47.24,194.77 L47.35,194.03 L47.46,193.29 L47.57,192.54 L47.68,191.79 L47.79,191.03 L47.91,190.27 L48.02,189.51 L48.13,188.74 L48.25,187.97 L48.37,187.20 L48.49,186.42 L48.60,185.65 L48.72,184.87 L48.84,184.08 L48.97,183.30 L49.09,182.51 L49.21,181.72 L49.34,180.92 L49.46,180.12 L49.59,179.33 L49.71,178.52 L49.84,177.72 L49.97,176.92 L50.10,176.11 L50.23,175.30 L50.36,174.49 L50.49,173.67 L50.62,172.86 L50.75,172.04 L50.89,171.22 L51.02,170.40 L51.16,169.58 L51.30,168.76 L51.43,167.93 L51.57,167.11 L51.71,166.28 L51.85,165.45 L51.99,164.63 L52.14,163.79 L52.28,162.96 L52.42,162.13 L52.57,161.30 L52.71,160.47 L52.86,159.63 L53.01,158.80 L53.16,157.96 L53.30,157.12 L53.45,156.29 L53.61,155.45 L53.76,154.61 L53.91,153.78 L54.06,152.94 L54.22,152.10 L54.37,151.26 L54.53,150.43 L54.69,149.59 L54.84,148.75 L55.00,147.91 L55.16,147.08 L55.32,146.24 L55.49,145.40 L55.65,144.57 L55.81,143.73 L55.98,142.90 L56.14,142.06 L56.31,141.23 L56.47,140.40 L56.64,139.57 L56.81,138.74 L56.98,137.91 L57.15,137.08 L57.32,136.25 L57.49,135.42 L57.67,134.60 L57.84,133.77 L58.02,132.95 L58.19,132.13 L58.37,131.31 L58.55,130.49 L58.73,129.67 L58.91,128.86 L59.09,128.04 L59.27,127.23 L59.45,126.42 L59.63,125.61 L59.82,124.81 L60.00,124.00 L60.19,123.20 L60.38,122.40 L60.56,121.60 L60.75,120.81 L60.94,120.01 L61.13,119.22 L61.33,118.43 L61.52,117.65 L61.71,116.86 L61.91,116.08 L62.10,115.30 L62.30,114.53 L62.49,113.75 L62.69,112.98 L62.89,112.22 L63.09,111.45 L63.29,110.69 L63.49,109.93 L63.70,109.18 L63.90,108.42 L64.10,107.67 L64.31,106.93 L64.52,106.19 L64.72,105.45 L64.93,104.71 L65.14,103.98 L65.35,103.25 L65.56,102.53 L65.77,101.81 L65.99,101.09 L66.20,100.38 L66.42,99.67 L66.63,98.96 L66.85,98.26 L67.07,97.56 L67.28,96.87 L67.50,96.18 L67.72,95.50 L67.95,94.82 L68.17,94.14 L68.39,93.47 L68.62,92.80 L68.84,92.14 L69.07,91.49 L69.29,90.83 L69.52,90.18 L69.75,89.54 L69.98,88.90 L70.21,88.27 L70.44,87.64 L70.68,87.02 L70.91,86.40 L71.15,85.79 L71.38,85.18 L71.62,84.58 L71.86,83.98 L72.09,83.39 L72.33,82.81 L72.57,82.23 L72.82,81.65 L73.06,81.08 L73.30,80.52 L73.55,79.96 L73.79,79.41 L74.04,78.87 L74.28,78.33 L74.53,77.79 L74.78,77.27 L75.03,76.74 L75.28,76.23 L75.53,75.72 L75.79,75.22 L76.04,74.72 L76.30,74.23 L76.55,73.75 L76.81,73.27 L77.07,72.81 L77.32,72.34 L77.58,71.89 L77.84,71.44 L78.11,70.99 L78.37,70.56 L78.63,70.13 L78.90,69.71 L79.16,69.29 L79.43,68.88 L79.70,68.48 L79.97,68.09 L80.23,67.70 L80.51,67.32 L80.78,66.95 L81.05,66.59 L81.32,66.23 L81.60,65.88 L81.87,65.54 L82.15,65.20 L82.43,64.87 L82.70,64.55 L82.98,64.24 L83.26,63.94 L83.54,63.64 L83.83,63.35 L84.11,63.07 L84.39,62.79 L84.68,62.53 L84.96,62.27 L85.25,62.02 L85.54,61.77 L85.83,61.54 L86.12,61.31 L86.41,61.09 L86.70,60.88 L86.99,60.68 L87.29,60.48 L87.58,60.29 L87.88,60.11 L88.18,59.94 L88.47,59.78 L88.77,59.62 L89.07,59.47 L89.37,59.33 L89.68,59.20 L89.98,59.08 L90.28,58.96 L90.59,58.85 L90.89,58.75 L91.20,58.66 L91.51,58.58 L91.82,58.50 L92.13,58.43 L92.44,58.37 L92.75,58.32 L93.06,58.28 L93.38,58.24 L93.69,58.21 L94.01,58.19 L94.32,58.18 L94.64,58.17 L94.96,58.18 L95.28,58.19 L95.60,58.20 L95.92,58.23 L96.25,58.26 L96.57,58.31 L96.90,58.36 L97.22,58.41 L97.55,58.48 L97.88,58.55 L98.21,58.63 L98.54,58.71 L98.87,58.81 L99.20,58.91 L99.53,59.02 L99.87,59.13 L100.20,59.25 L100.54,59.38 L100.87,59.52 L101.21,59.67 L101.55,59.82 L101.89,59.98 L102.23,60.14 L102.57,60.31 L102.92,60.49 L103.26,60.68 L103.61,60.87 L103.95,61.07 L104.30,61.27 L104.65,61.48 L105.00,61.70 L105.35,61.92 L105.70,62.15 L106.05,62.39 L106.40,62.63 L106.76,62.88 L107.11,63.14 L107.47,63.40 L107.83,63.66 L108.19,63.93 L108.54,64.21 L108.91,64.49 L109.27,64.78 L109.63,65.08 L109.99,65.38 L110.36,65.68 L110.72,65.99 L111.09,66.31 L111.46,66.63 L111.83,66.95 L112.20,67.28 L112.57,67.62 L112.94,67.96 L113.31,68.30 L113.68,68.65 L114.06,69.00 L114.44,69.36 L114.81,69.72 L115.19,70.09 L115.57,70.46 L115.95,70.83 L116.33,71.21 L116.71,71.59 L117.10,71.97 L117.48,72.36 L117.86,72.76 L118.25,73.15 L118.64,73.55 L119.03,73.96 L119.42,74.36 L119.81,74.77 L120.20,75.19 L120.59,75.60 L120.98,76.02 L121.38,76.44 L121.77,76.87 L122.17,77.30 L122.57,77.73 L122.97,78.16 L123.37,78.59 L123.77,79.03 L124.17,79.47 L124.57,79.91 L124.97,80.36 L125.38,80.81 L125.79,81.25 L126.19,81.70 L126.60,82.16 L127.01,82.61 L127.42,83.07 L127.83,83.53 L128.24,83.99 L128.66,84.45 L129.07,84.91 L129.49,85.37 L129.90,85.84 L130.32,86.30 L130.74,86.77 L131.16,87.24 L131.58,87.71 L132.00,88.18 L132.42,88.65 L132.85,89.12 L133.27,89.60 L133.70,90.07 L134.12,90.55 L134.55,91.02 L134.98,91.50 L135.41,91.97 L135.84,92.45 L136.27,92.93 L136.71,93.41 L137.14,93.88 L137.58,94.36 L138.01,94.84 L138.45,95.32 L138.89,95.80 L139.33,96.28 L139.77,96.76 L140.21,97.23 L140.65,97.71 L141.10,98.19 L141.54,98.67 L141.99,99.15 L142.44,99.62 L142.88,100.10 L143.33,100.58 L143.78,101.06 L144.23,101.53 L144.69,102.01 L145.14,102.48 L145.60,102.96 L146.05,103.43 L146.51,103.90 L146.96,104.38 L147.42,104.85 L147.88,105.32 L148.34,105.79 L148.81,106.26 L149.27,106.73 L149.73,107.20 L150.20,107.66 L150.66,108.13 L151.13,108.59 L151.60,109.06 L152.07,109.52 L152.54,109.98 L153.01,110.44 L153.48,110.90 L153.96,111.36 L154.43,111.82 L154.91,112.28 L155.38,112.73 L155.86,113.19 L156.34,113.64 L156.82,114.09 L157.30,114.54 L157.79,114.99 L158.27,115.44 L158.75,115.88 L159.24,116.33 L159.72,116.77 L160.21,117.22 L160.70,117.66 L161.19,118.10 L161.68,118.53 L162.17,118.97 L162.67,119.41 L163.16,119.84 L163.66,120.27 L164.15,120.70 L164.65,121.13 L165.15,121.56 L165.65,121.99 L166.15,122.41 L166.65,122.84 L167.15,123.26 L167.66,123.68 L168.16,124.10 L168.67,124.51 L169.17,124.93 L169.68,125.34 L170.19,125.76 L170.70,126.17 L171.21,126.58 L171.73,126.99 L172.24,127.39 L172.75,127.80 L173.27,128.20 L173.79,128.60 L174.30,129.00 L174.82,129.40 L175.34,129.80 L175.86,130.19 L176.39,130.58 L176.91,130.98 L177.44,131.37 L177.96,131.75 L178.49,132.14 L179.01,132.53 L179.54,132.91 L180.07,133.29 L180.60,133.67 L181.14,134.05 L181.67,134.43 L182.20,134.80 L182.74,135.18 L183.28,135.55 L183.81,135.92 L184.35,136.29 L184.89,136.66 L185.43,137.02 L185.97,137.39 L186.52,137.75 L187.06,138.11 L187.61,138.47 L188.15,138.83 L188.70,139.18 L189.25,139.54 L189.80,139.89 L190.35,140.24 L190.90,140.59 L191.45,140.94 L192.01,141.29 L192.56,141.63 L193.12,141.98 L193.68,142.32 L194.24,142.66 L194.80,143.00 L195.36,143.34 L195.92,143.67 L196.48,144.01 L197.04,144.34 L197.61,144.67 L198.18,145.00 L198.74,145.33 L199.31,145.66 L199.88,145.99 L200.45,146.31 L201.02,146.63 L201.60,146.96 L202.17,147.28 L202.74,147.60 L203.32,147.91 L203.90,148.23 L204.48,148.55 L205.06,148.86 L205.64,149.17 L206.22,149.48 L206.80,149.79 L207.38,150.10 L207.97,150.41 L208.55,150.71 L209.14,151.02 L209.73,151.32 L210.32,151.62 L210.91,151.92 L211.50,152.22 L212.09,152.52 L212.69,152.82 L213.28,153.11 L213.88,153.41 L214.48,153.70 L215.07,154.00 L215.67,154.29 L216.27,154.58 L216.88,154.87 L217.48,155.15 L218.08,155.44 L218.69,155.73 L219.29,156.01 L219.90,156.30 L220.51,156.58 L221.12,156.86 L221.73,157.14 L222.34,157.42 L222.95,157.70 L223.57,157.98 L224.18,158.25 L224.80,158.53 L225.42,158.80 L226.03,159.08 L226.65,159.35 L227.28,159.62 L227.90,159.89 L228.52,160.16 L229.14,160.43 L229.77,160.70 L230.40,160.97 L231.02,161.23 L231.65,161.50 L232.28,161.76 L232.91,162.03 L233.54,162.29 L234.18,162.55 L234.81,162.81 L235.45,163.07 L236.08,163.33 L236.72,163.59 L237.36,163.85 L238.00,164.11 L238.64,164.36 L239.28,164.62 L239.92,164.87 L240.57,165.12 L241.21,165.38 L241.86,165.63 L242.51,165.88 L243.16,166.13 L243.81,166.38 L244.46,166.62 L245.11,166.87 L245.76,167.12 L246.42,167.36 L247.07,167.61 L247.73,167.85 L248.39,168.09 L249.05,168.33 L249.71,168.57 L250.37,168.81 L251.03,169.05 L251.69,169.29 L252.36,169.53 L253.02,169.76 L253.69,170.00 L254.36,170.23 L255.03,170.46 L255.70,170.70 L256.37,170.93 L257.04,171.16 L257.72,171.39 L258.39,171.61 L259.07,171.84 L259.74,172.07 L260.42,172.29 L261.10,172.52 L261.78,172.74 L262.46,172.96 L263.15,173.18 L263.83,173.40 L264.51,173.62 L265.20,173.84 L265.89,174.06 L266.58,174.28 L267.27,174.49 L267.96,174.71 L268.65,174.92 L269.34,175.13 L270.04,175.34 L270.73,175.56 L271.43,175.77 L272.13,175.97 L272.82,176.18 L273.52,176.39 L274.23,176.60 L274.93,176.80 L275.63,177.01 L276.34,177.21 L277.04,177.41 L277.75,177.62 L278.46,177.82 L279.16,178.02 L279.87,178.22 L280.59,178.41 L281.30,178.61 L282.01,178.81 L282.73,179.01 L283.44,179.20 L284.16,179.39 L284.88,179.59 L285.60,179.78 L286.32,179.97 L287.04,180.16 L287.76,180.35 L288.49,180.54 L289.21,180.73 L289.94,180.92 L290.67,181.11 L291.39,181.29 L292.12,181.48 L292.85,181.66 L293.59,181.85 L294.32,182.03 L295.05,182.21 L295.79,182.39 L296.53,182.58 L297.26,182.76 L298.00,182.93 L298.74,183.11 L299.48,183.29 L300.23,183.47 L300.97,183.64 L301.72,183.82 L302.46,184.00 L303.21,184.17 L303.96,184.34 L304.71,184.52 L305.46,184.69 L306.21,184.86 L306.96,185.03 L307.71,185.20 L308.47,185.37 L309.23,185.54 L309.98,185.71 L310.74,185.87 L311.50,186.04 L312.26,186.21 L313.03,186.37 L313.79,186.54 L314.55,186.70 L315.32,186.86 L316.08,187.02 L316.85,187.19 L317.62,187.35 L318.39,187.51 L319.16,187.67 L319.94,187.83 L320.71,187.99 L321.48,188.14 L322.26,188.30 L323.04,188.46 L323.82,188.61 L324.60,188.77 L325.38,188.93 L326.16,189.08 L326.94,189.23 L327.73,189.39 L328.51,189.54 L329.30,189.69 L330.08,189.84 L330.87,189.99 L331.66,190.14 L332.46,190.29 L333.25,190.44 L334.04,190.59 L334.84,190.74 L335.63,190.88 L336.43,191.03 L337.23,191.18 L338.03,191.32 L338.83,191.47 L339.63,191.61 L340.43,191.76 L341.24,191.90 L342.04,192.04 L342.85,192.18 L343.65,192.33 L344.46,192.47 L345.27,192.61 L346.08,192.75 L346.90,192.89 L347.71,193.02 L348.52,193.16 L349.34,193.30 L350.16,193.44 L350.97,193.57 L351.79,193.71 L352.61,193.85 L353.44,193.98 L354.26,194.12 L355.08,194.25 L355.91,194.38 L356.73,194.52 L357.56,194.65 L358.39,194.78 L359.22,194.91 L360.05,195.05 L360.88,195.18 L361.72,195.31 L362.55,195.44 L363.39,195.56 L364.22,195.69 L365.06,195.82 L365.90,195.95 L366.74,196.08 L367.58,196.20 L368.43,196.33 L369.27,196.46 L370.12,196.58 L370.96,196.71 L371.81,196.83 L372.66,196.95 L373.51,197.08 L374.36,197.20 L375.21,197.32 L376.06,197.45 L376.92,197.57 L377.78,197.69 L378.63,197.81 L379.49,197.93 L380.35,198.05 L381.21,198.17 L382.07,198.29 L382.93,198.41 L383.80,198.53 L384.66,198.64 L385.53,198.76 L386.40,198.88 L387.27,198.99 L388.14,199.11 L389.01,199.23 L389.88,199.34 L390.75,199.46 L391.63,199.57 L392.50,199.68 L393.38,199.80 L394.26,199.91 L395.14,200.02 L396.02,200.14 L396.90,200.25 L397.79,200.36 L398.67,200.47 L399.55,200.58 L400.44,200.69 L401.33,200.80 L402.22,200.91 L403.11,201.02 L404.00,201.13" fill="none" stroke="#ff8000" stroke-width="2.5" stroke-dasharray="7.17 2" stroke-linejoin="round"/>
<path d="M39.50,245.50 L39.50,245.47 L39.50,245.47 L39.50,245.47 L39.50,245.46 L39.51,245.45 L39.51,245.44 L39.51,245.42 L39.51,245.40 L39.51,245.38 L39.52,245.35 L39.52,245.32 L39.53,245.29 L39.53,245.25 L39.54,245.20 L39.54,245.16 L39.55,245.11 L39.56,245.05 L39.56,245.00 L39.57,244.93 L39.58,244.87 L39.59,244.80 L39.60,244.72 L39.61,244.65 L39.62,244.56 L39.63,244.48 L39.64,244.39 L39.65,244.29 L39.67,244.19 L39.68,244.09 L39.69,243.99 L39.71,243.88 L39.72,243.76 L39.74,243.64 L39.76,243.52 L39.77,243.39 L39.79,243.26 L39.81,243.13 L39.83,242.99 L39.85,242.85 L39.87,242.70 L39.89,242.55 L39.91,242.40 L39.93,242.24 L39.96,242.08 L39.98,241.91 L40.01,241.74 L40.03,241.57 L40.06,241.39 L40.08,241.21 L40.11,241.02 L40.14,240.83 L40.16,240.64 L40.19,240.44 L40.22,240.24 L40.25,240.04 L40.28,239.83 L40.32,239.61 L40.35,239.40 L40.38,239.18 L40.41,238.95 L40.45,238.73 L40.48,238.49 L40.52,238.26 L40.56,238.02 L40.59,237.78 L40.63,237.53 L40.67,237.28 L40.71,237.03 L40.75,236.77 L40.79,236.51 L40.83,236.24 L40.87,235.97 L40.91,235.70 L40.96,235.43 L41.00,235.15 L41.05,234.86 L41.09,234.58 L41.14,234.28 L41.19,233.99 L41.23,233.69 L41.28,233.39 L41.33,233.09 L41.38,232.78 L41.43,232.46 L41.48,232.15 L41.54,231.83 L41.59,231.51 L41.64,231.18 L41.70,230.85 L41.75,230.52 L41.81,230.18 L41.87,229.84 L41.92,229.49 L41.98,229.14 L42.04,228.79 L42.10,228.44 L42.16,228.08 L42.22,227.72 L42.28,227.35 L42.35,226.98 L42.41,226.61 L42.47,226.23 L42.54,225.85 L42.61,225.47 L42.67,225.08 L42.74,224.69 L42.81,224.30 L42.88,223.90 L42.95,223.50 L43.02,223.09 L43.09,222.69 L43.16,222.27 L43.23,221.86 L43.31,221.44 L43.38,221.02 L43.46,220.59 L43.53,220.16 L43.61,219.73 L43.69,219.29 L43.77,218.85 L43.84,218.41 L43.92,217.96 L44.01,217.51 L44.09,217.06 L44.17,216.60 L44.25,216.14 L44.34,215.68 L44.42,215.21 L44.51,214.74 L44.59,214.26 L44.68,213.79 L44.77,213.30 L44.86,212.82 L44.95,212.33 L45.04,211.84 L45.13,211.34 L45.22,210.84 L45.31,210.34 L45.41,209.83 L45.50,209.32 L45.60,208.81 L45.69,208.29 L45.79,207.77 L45.89,207.25 L45.99,206.72 L46.09,206.19 L46.19,205.66 L46.29,205.12 L46.39,204.58 L46.49,204.03 L46.60,203.48 L46.70,202.93 L46.81,202.37 L46.91,201.82 L47.02,201.25 L47.13,200.69 L47.24,200.12 L47.35,199.54 L47.46,198.97 L47.57,198.39 L47.68,197.80 L47.79,197.22 L47.91,196.63 L48.02,196.03 L48.13,195.43 L48.25,194.83 L48.37,194.23 L48.49,193.62 L48.60,193.01 L48.72,192.39 L48.84,191.78 L48.97,191.15 L49.09,190.53 L49.21,189.90 L49.34,189.27 L49.46,188.63 L49.59,187.99 L49.71,187.35 L49.84,186.70 L49.97,186.05 L50.10,185.40 L50.23,184.74 L50.36,184.08 L50.49,183.42 L50.62,182.75 L50.75,182.08 L50.89,181.41 L51.02,180.74 L51.16,180.06 L51.30,179.37 L51.43,178.69 L51.57,178.00 L51.71,177.30 L51.85,176.61 L51.99,175.91 L52.14,175.20 L52.28,174.50 L52.42,173.79 L52.57,173.08 L52.71,172.36 L52.86,171.64 L53.01,170.92 L53.16,170.20 L53.30,169.47 L53.45,168.74 L53.61,168.00 L53.76,167.26 L53.91,166.52 L54.06,165.78 L54.22,165.03 L54.37,164.29 L54.53,163.53 L54.69,162.78 L54.84,162.02 L55.00,161.26 L55.16,160.50 L55.32,159.73 L55.49,158.96 L55.65,158.19 L55.81,157.42 L55.98,156.64 L56.14,155.86 L56.31,155.08 L56.47,154.29 L56.64,153.51 L56.81,152.72 L56.98,151.92 L57.15,151.13 L57.32,150.33 L57.49,149.53 L57.67,148.73 L57.84,147.93 L58.02,147.12 L58.19,146.32 L58.37,145.51 L58.55,144.69 L58.73,143.88 L58.91,143.06 L59.09,142.25 L59.27,141.43 L59.45,140.61 L59.63,139.78 L59.82,138.96 L60.00,138.13 L60.19,137.30 L60.38,136.48 L60.56,135.64 L60.75,134.81 L60.94,133.98 L61.13,133.14 L61.33,132.31 L61.52,131.47 L61.71,130.63 L61.91,129.79 L62.10,128.95 L62.30,128.11 L62.49,127.27 L62.69,126.43 L62.89,125.59 L63.09,124.74 L63.29,123.90 L63.49,123.05 L63.70,122.21 L63.90,121.36 L64.10,120.52 L64.31,119.67 L64.52,118.83 L64.72,117.98 L64.93,117.14 L65.14,116.29 L65.35,115.45 L65.56,114.61 L65.77,113.76 L65.99,112.92 L66.20,112.08 L66.42,111.24 L66.63,110.40 L66.85,109.56 L67.07,108.72 L67.28,107.88 L67.50,107.04 L67.72,106.21 L67.95,105.38 L68.17,104.55 L68.39,103.72 L68.62,102.89 L68.84,102.06 L69.07,101.24 L69.29,100.41 L69.52,99.59 L69.75,98.78 L69.98,97.96 L70.21,97.15 L70.44,96.34 L70.68,95.53 L70.91,94.73 L71.15,93.93 L71.38,93.13 L71.62,92.33 L71.86,91.54 L72.09,90.75 L72.33,89.97 L72.57,89.18 L72.82,88.41 L73.06,87.63 L73.30,86.86 L73.55,86.10 L73.79,85.34 L74.04,84.58 L74.28,83.83 L74.53,83.08 L74.78,82.34 L75.03,81.60 L75.28,80.86 L75.53,80.13 L75.79,79.41 L76.04,78.69 L76.30,77.98 L76.55,77.27 L76.81,76.57 L77.07,75.88 L77.32,75.19 L77.58,74.50 L77.84,73.83 L78.11,73.16 L78.37,72.52 L78.63,71.88 L78.90,71.25 L79.16,70.62 L79.43,70.00 L79.70,69.39 L79.97,68.79 L80.23,68.19 L80.51,67.60 L80.78,67.02 L81.05,66.44 L81.32,65.87 L81.60,65.31 L81.87,64.76 L82.15,64.21 L82.43,63.67 L82.70,63.14 L82.98,62.62 L83.26,62.11 L83.54,61.60 L83.83,61.10 L84.11,60.61 L84.39,60.13 L84.68,59.65 L84.96,59.19 L85.25,58.73 L85.54,58.28 L85.83,57.84 L86.12,57.40 L86.41,56.98 L86.70,56.56 L86.99,56.15 L87.29,55.75 L87.58,55.36 L87.88,54.98 L88.18,54.61 L88.47,54.24 L88.77,53.89 L89.07,53.54 L89.37,53.21 L89.68,52.88 L89.98,52.57 L90.28,52.27 L90.59,51.97 L90.89,51.69 L91.20,51.42 L91.51,51.16 L91.82,50.91 L92.13,50.67 L92.44,50.43 L92.75,50.21 L93.06,50.01 L93.38,49.81 L93.69,49.62 L94.01,49.44 L94.32,49.28 L94.64,49.12 L94.96,48.97 L95.28,48.84 L95.60,48.72 L95.92,48.60 L96.25,48.50 L96.57,48.41 L96.90,48.33 L97.22,48.26 L97.55,48.20 L97.88,48.15 L98.21,48.11 L98.54,48.09 L98.87,48.07 L99.20,48.06 L99.53,48.07 L99.87,48.08 L100.20,48.10 L100.54,48.14 L100.87,48.18 L101.21,48.23 L101.55,48.29 L101.89,48.37 L102.23,48.45 L102.57,48.54 L102.92,48.64 L103.26,48.75 L103.61,48.87 L103.95,49.00 L104.30,49.14 L104.65,49.29 L105.00,49.45 L105.35,49.62 L105.70,49.79 L106.05,49.98 L106.40,50.18 L106.76,50.38 L107.11,50.60 L107.47,50.82 L107.83,51.06 L108.19,51.30 L108.54,51.55 L108.91,51.82 L109.27,52.09 L109.63,52.36 L109.99,52.65 L110.36,52.94 L110.72,53.25 L111.09,53.56 L111.46,53.88 L111.83,54.20 L112.20,54.54 L112.57,54.88 L112.94,55.23 L113.31,55.58 L113.68,55.95 L114.06,56.32 L114.44,56.69 L114.81,57.08 L115.19,57.47 L115.57,57.87 L115.95,58.27 L116.33,58.68 L116.71,59.09 L117.10,59.52 L117.48,59.94 L117.86,60.38 L118.25,60.81 L118.64,61.26 L119.03,61.71 L119.42,62.16 L119.81,62.62 L120.20,63.09 L120.59,63.55 L120.98,64.03 L121.38,64.51 L121.77,64.99 L122.17,65.48 L122.57,65.97 L122.97,66.46 L123.37,66.96 L123.77,67.47 L124.17,67.97 L124.57,68.48 L124.97,69.00 L125.38,69.51 L125.79,70.03 L126.19,70.55 L126.60,71.08 L127.01,71.61 L127.42,72.14 L127.83,72.67 L128.24,73.21 L128.66,73.75 L129.07,74.29 L129.49,74.83 L129.90,75.37 L130.32,75.93 L130.74,76.48 L131.16,77.04 L131.58,77.60 L132.00,78.16 L132.42,78.72 L132.85,79.28 L133.27,79.84 L133.70,80.41 L134.12,80.97 L134.55,81.54 L134.98,82.11 L135.41,82.68 L135.84,83.24 L136.27,83.81 L136.71,84.38 L137.14,84.95 L137.58,85.52 L138.01,86.09 L138.45,86.66 L138.89,87.23 L139.33,87.80 L139.77,88.37 L140.21,88.94 L140.65,89.51 L141.10,90.08 L141.54,90.65 L141.99,91.22 L142.44,91.78 L142.88,92.35 L143.33,92.92 L143.78,93.48 L144.23,94.05 L144.69,94.61 L145.14,95.17 L145.60,95.73 L146.05,96.29 L146.51,96.85 L146.96,97.41 L147.42,97.97 L147.88,98.52 L148.34,99.08 L148.81,99.63 L149.27,100.18 L149.73,100.73 L150.20,101.28 L150.66,101.83 L151.13,102.37 L151.60,102.92 L152.07,103.46 L152.54,104.00 L153.01,104.54 L153.48,105.08 L153.96,105.61 L154.43,106.15 L154.91,106.68 L155.38,107.21 L155.86,107.74 L156.34,108.26 L156.82,108.79 L157.30,109.31 L157.79,109.83 L158.27,110.35 L158.75,110.87 L159.24,111.38 L159.72,111.89 L160.21,112.40 L160.70,112.91 L161.19,113.42 L161.68,113.92 L162.17,114.43 L162.67,114.93 L163.16,115.42 L163.66,115.92 L164.15,116.41 L164.65,116.91 L165.15,117.40 L165.65,117.88 L166.15,118.37 L166.65,118.85 L167.15,119.33 L167.66,119.81 L168.16,120.29 L168.67,120.76 L169.17,121.24 L169.68,121.71 L170.19,122.18 L170.70,122.64 L171.21,123.11 L171.73,123.57 L172.24,124.03 L172.75,124.48 L173.27,124.94 L173.79,125.39 L174.30,125.84 L174.82,126.29 L175.34,126.74 L175.86,127.18 L176.39,127.63 L176.91,128.07 L177.44,128.51 L177.96,128.94 L178.49,129.37 L179.01,129.81 L179.54,130.24 L180.07,130.66 L180.60,131.09 L181.14,131.51 L181.67,131.93 L182.20,132.35 L182.74,132.77 L183.28,133.19 L183.81,133.60 L184.35,134.01 L184.89,134.42 L185.43,134.83 L185.97,135.23 L186.52,135.63 L187.06,136.03 L187.61,136.43 L188.15,136.83 L188.70,137.22 L189.25,137.62 L189.80,138.01 L190.35,138.40 L190.90,138.78 L191.45,139.17 L192.01,139.55 L192.56,139.93 L193.12,140.31 L193.68,140.69 L194.24,141.07 L194.80,141.44 L195.36,141.81 L195.92,142.18 L196.48,142.55 L197.04,142.92 L197.61,143.28 L198.18,143.64 L198.74,144.00 L199.31,144.36 L199.88,144.72 L200.45,145.08 L201.02,145.43 L201.60,145.78 L202.17,146.13 L202.74,146.48 L203.32,146.83 L203.90,147.17 L204.48,147.52 L205.06,147.86 L205.64,148.20 L206.22,148.54 L206.80,148.87 L207.38,149.21 L207.97,149.54 L208.55,149.87 L209.14,150.20 L209.73,150.53 L210.32,150.86 L210.91,151.18 L211.50,151.51 L212.09,151.83 L212.69,152.15 L213.28,152.47 L213.88,152.78 L214.48,153.10 L215.07,153.41 L215.67,153.73 L216.27,154.04 L216.88,154.35 L217.48,154.66 L218.08,154.96 L218.69,155.27 L219.29,155.57 L219.90,155.87 L220.51,156.17 L221.12,156.47 L221.73,156.77 L222.34,157.07 L222.95,157.36 L223.57,157.66 L224.18,157.95 L224.80,158.24 L225.42,158.53 L226.03,158.82 L226.65,159.10 L227.28,159.39 L227.90,159.67 L228.52,159.95 L229.14,160.24 L229.77,160.51 L230.40,160.79 L231.02,161.07 L231.65,161.35 L232.28,161.62 L232.91,161.89 L233.54,162.17 L234.18,162.44 L234.81,162.71 L235.45,162.97 L236.08,163.24 L236.72,163.51 L237.36,163.77 L238.00,164.03 L238.64,164.30 L239.28,164.56 L239.92,164.82 L240.57,165.08 L241.21,165.33 L241.86,165.59 L242.51,165.84 L243.16,166.10 L243.81,166.35 L244.46,166.60 L245.11,166.85 L245.76,167.10 L246.42,167.35 L247.07,167.59 L247.73,167.84 L248.39,168.08 L249.05,168.33 L249.71,168.57 L250.37,168.81 L251.03,169.05 L251.69,169.29 L252.36,169.53 L253.02,169.76 L253.69,170.00 L254.36,170.24 L255.03,170.47 L255.70,170.70 L256.37,170.93 L257.04,171.16 L257.72,171.39 L258.39,171.62 L259.07,171.85 L259.74,172.07 L260.42,172.30 L261.10,172.52 L261.78,172.75 L262.46,172.97 L263.15,173.19 L263.83,173.41 L264.51,173.63 L265.20,173.85 L265.89,174.07 L266.58,174.28 L267.27,174.50 L267.96,174.71 L268.65,174.93 L269.34,175.14 L270.04,175.35 L270.73,175.56 L271.43,175.77 L272.13,175.98 L272.82,176.19 L273.52,176.40 L274.23,176.60 L274.93,176.81 L275.63,177.01 L276.34,177.22 L277.04,177.42 L277.75,177.62 L278.46,177.82 L279.16,178.02 L279.87,178.22 L280.59,178.42 L281.30,178.62 L282.01,178.82 L282.73,179.01 L283.44,179.21 L284.16,179.40 L284.88,179.60 L285.60,179.79 L286.32,179.98 L287.04,180.17 L287.76,180.36 L288.49,180.55 L289.21,180.74 L289.94,180.93 L290.67,181.11 L291.39,181.30 L292.12,181.49 L292.85,181.67 L293.59,181.86 L294.32,182.04 L295.05,182.22 L295.79,182.40 L296.53,182.58 L297.26,182.76 L298.00,182.94 L298.74,183.12 L299.48,183.30 L300.23,183.48 L300.97,183.65 L301.72,183.83 L302.46,184.00 L303.21,184.18 L303.96,184.35 L304.71,184.52 L305.46,184.70 L306.21,184.87 L306.96,185.04 L307.71,185.21 L308.47,185.38 L309.23,185.55 L309.98,185.71 L310.74,185.88 L311.50,186.05 L312.26,186.21 L313.03,186.38 L313.79,186.54 L314.55,186.71 L315.32,186.87 L316.08,187.03 L316.85,187.20 L317.62,187.36 L318.39,187.52 L319.16,187.68 L319.94,187.84 L320.71,188.00 L321.48,188.15 L322.26,188.31 L323.04,188.47 L323.82,188.62 L324.60,188.78 L325.38,188.94 L326.16,189.09 L326.94,189.24 L327.73,189.40 L328.51,189.55 L329.30,189.70 L330.08,189.85 L330.87,190.00 L331.66,190.15 L332.46,190.30 L333.25,190.45 L334.04,190.60 L334.84,190.75 L335.63,190.90 L336.43,191.04 L337.23,191.19 L338.03,191.33 L338.83,191.48 L339.63,191.62 L340.43,191.77 L341.24,191.91 L342.04,192.05 L342.85,192.20 L343.65,192.34 L344.46,192.48 L345.27,192.62 L346.08,192.76 L346.90,192.90 L347.71,193.04 L348.52,193.18 L349.34,193.31 L350.16,193.45 L350.97,193.59 L351.79,193.72 L352.61,193.86 L353.44,194.00 L354.26,194.13 L355.08,194.26 L355.91,194.40 L356.73,194.53 L357.56,194.66 L358.39,194.80 L359.22,194.93 L360.05,195.06 L360.88,195.19 L361.72,195.32 L362.55,195.45 L363.39,195.58 L364.22,195.71 L365.06,195.84 L365.90,195.97 L366.74,196.09 L367.58,196.22 L368.43,196.35 L369.27,196.47 L370.12,196.60 L370.96,196.72 L371.81,196.85 L372.66,196.97 L373.51,197.09 L374.36,197.22 L375.21,197.34 L376.06,197.46 L376.92,197.58 L377.78,197.71 L378.63,197.83 L379.49,197.95 L380.35,198.07 L381.21,198.19 L382.07,198.31 L382.93,198.43 L383.80,198.54 L384.66,198.66 L385.53,198.78 L386.40,198.90 L387.27,199.01 L388.14,199.13 L389.01,199.24 L389.88,199.36 L390.75,199.47 L391.63,199.59 L392.50,199.70 L393.38,199.82 L394.26,199.93 L395.14,200.04 L396.02,200.16 L396.90,200.27 L397.79,200.38 L398.67,200.49 L399.55,200.60 L400.44,200.71 L401.33,200.82 L402.22,200.93 L403.11,201.04 L404.00,201.15" fill="none" stroke="#808080" stroke-width="2.5" stroke-dasharray="3.6 2.1 7.15 2.1" stroke-dashoffset="0.2" stroke-linejoin="round"/>
<line x1="308" y1="32.6" x2="331.4" y2="32.6" stroke="#0000ff" stroke-width="2.3" stroke-dasharray="7.2 2"/>
<line x1="308" y1="57.6" x2="331.4" y2="57.6" stroke="#ff0000" stroke-width="2.3"/>
<line x1="308" y1="80.1" x2="329.2" y2="80.1" stroke="#996633" stroke-width="2.3" stroke-dasharray="3.6 2.15"/>
<line x1="308" y1="102.6" x2="331.4" y2="102.6" stroke="#ff8000" stroke-width="2.3" stroke-dasharray="7.2 2"/>
<line x1="308" y1="126.4" x2="326.7" y2="126.4" stroke="#808080" stroke-width="2.3" stroke-dasharray="3.6 2.1 7.2 2.1"/>
<g font-family="'Liberation Serif', serif" font-size="11.5" fill="#000">
<text x="337.3" y="36.8">0</text>
<text x="349" y="62.1" font-style="italic">X</text>
<path d="M338.5,59.3 L340.4,57.8 L344.5,65.3 L348.4,49.5 L360.8,49.5" fill="none" stroke="#000" stroke-width="0.7" stroke-linejoin="miter"/>
<path d="M348.2,49.5 L360.8,49.5" fill="none" stroke="#000" stroke-width="0.95"/>
<path d="M340.2,57.8 L344.0,64.8" fill="none" stroke="#000" stroke-width="1.6"/>
<text x="338" y="84.4" font-style="italic">X</text>
<text x="338" y="106.5" font-style="italic">X<tspan font-size="7.7" dx="0.4" dy="-3.9" font-style="normal">2</tspan></text>
<text x="338" y="130.2" font-style="italic">X<tspan font-size="7.7" dx="0.4" dy="-3.9" font-style="normal">3</tspan></text>
</g>
</svg>
</body></html>
